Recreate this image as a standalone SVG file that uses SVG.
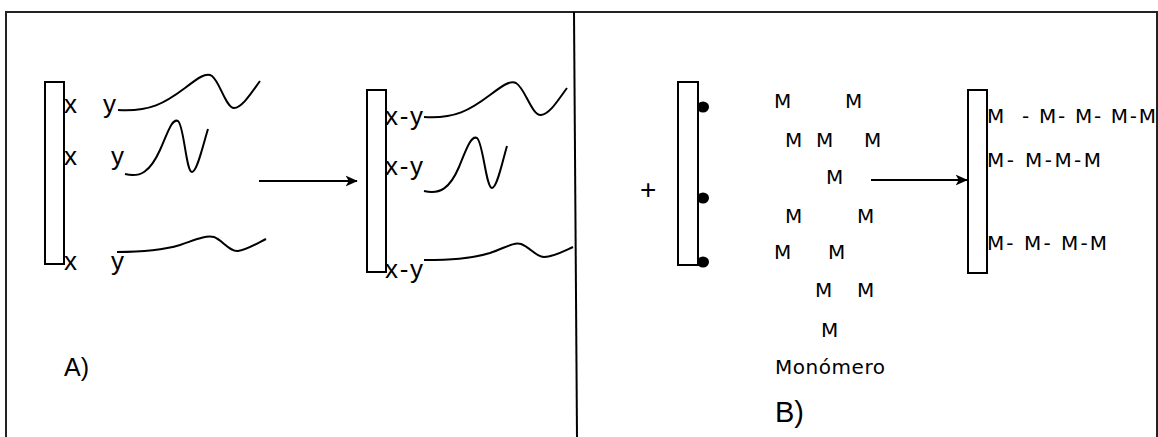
<svg xmlns="http://www.w3.org/2000/svg" width="1158" height="437" viewBox="0 0 1158 437">
<style>
.bar{fill:#fff;stroke:#000;stroke-width:2}
.crv{fill:none;stroke:#000;stroke-width:2}
.t{font-family:"Liberation Sans",Arial,sans-serif;fill:#000}
.ta{font-size:26px}
.tm{font-family:"DejaVu Sans","Liberation Sans",sans-serif;font-size:20px}
.con{stroke:#000;stroke-width:1.8;fill:none}
</style>
<defs>
<marker id="ah" markerWidth="12" markerHeight="12" viewBox="0 0 16 14" refX="15" refY="7" orient="auto" markerUnits="userSpaceOnUse">
<path d="M0,0 L16,7 L0,14 L4,7 Z" fill="#000"/>
</marker>
</defs>
<rect x="0" y="0" width="1158" height="437" fill="#fff"/>
<g id="frame">
<rect x="6" y="12" width="1151" height="440" fill="none" stroke="#222" stroke-width="2"/>
<line x1="574" y1="12" x2="577" y2="437" stroke="#000" stroke-width="2"/>
</g>
<g id="panelA-left">
<rect class="bar" x="45" y="82" width="19" height="182"/>
<text class="t ta" x="64" y="113">x</text>
<text class="t ta" x="103" y="113">y</text>
<text class="t ta" x="64" y="165">x</text>
<text class="t ta" x="111" y="165">y</text>
<text class="t ta" x="64" y="270">x</text>
<text class="t ta" x="111" y="270">y</text>
<path class="crv" d="M118,110 C150,112 165,103 185,88 C198,78 206,72 212,76 C220,82 226,108 234,108 C242,108 252,92 260,81"/>
<path class="crv" d="M125,174 C140,178 150,172 160,150 C168,132 172,118 178,121 C184,125 186,172 192,172 C197,172 203,145 208,129"/>
<path class="crv" d="M117,252 C140,252 160,251 180,245 C195,240 205,235 214,237 C222,240 230,252 238,251 C246,250 256,244 266,239"/>
</g>
<g id="panelA-right">
<rect class="bar" x="367" y="90" width="19" height="182"/>
<text class="t ta" x="385" y="125" textLength="38">x-y</text>
<text class="t ta" x="385" y="175" textLength="38">x-y</text>
<text class="t ta" x="385" y="278" textLength="38">x-y</text>
<path class="crv" d="M424,117 C455,119 470,110 490,95 C502,86 510,80 516,83 C525,88 532,116 541,115 C550,114 558,100 567,88"/>
<path class="crv" d="M424,191 C440,195 450,188 459,167 C466,150 471,135 477,138 C483,142 486,188 492,188 C497,188 502,163 507,146"/>
<path class="crv" d="M424,260 C450,260 470,259 490,253 C505,248 513,242 521,244 C530,247 536,257 544,257 C553,257 562,252 573,247"/>
</g>
<g id="labelA"><text class="t" x="64" y="376" font-size="25">A)</text></g>
<g id="panelB-left">
<text class="t" x="640" y="199" font-size="28">+</text>
<rect class="bar" x="678" y="82" width="20" height="183"/>
<ellipse cx="703" cy="107" rx="6" ry="5.5" fill="#000"/>
<ellipse cx="703" cy="198" rx="6" ry="5.5" fill="#000"/>
<ellipse cx="703" cy="262" rx="6" ry="5.5" fill="#000"/>
</g>
<g id="monomers">
<text class="t tm" x="774" y="108">M</text>
<text class="t tm" x="845" y="108">M</text>
<text class="t tm" x="785" y="147">M</text>
<text class="t tm" x="816" y="147">M</text>
<text class="t tm" x="864" y="147">M</text>
<text class="t tm" x="826" y="184">M</text>
<text class="t tm" x="785" y="223">M</text>
<text class="t tm" x="857" y="223">M</text>
<text class="t tm" x="774" y="259">M</text>
<text class="t tm" x="828" y="259">M</text>
<text class="t tm" x="815" y="297">M</text>
<text class="t tm" x="857" y="297">M</text>
<text class="t tm" x="821" y="337">M</text>
<text class="t tm" x="775" y="374" textLength="110">Monómero</text>
</g>
<g id="labelB"><text class="t" x="775" y="422" font-size="29">B)</text></g>
<g id="panelB-right">
<rect class="bar" x="968" y="90" width="19" height="183"/>
<text class="t tm" x="987" y="123" textLength="169" xml:space="preserve">M  - M- M- M-M</text>
<text class="t tm" x="987" y="167" textLength="114">M- M-M-M</text>
<text class="t tm" x="987" y="250" textLength="120">M- M- M-M</text>
</g>
<g id="connectors">
<line class="con" x1="259" y1="181" x2="357" y2="181" marker-end="url(#ah)"/>
<line class="con" x1="871" y1="180" x2="967" y2="180" marker-end="url(#ah)"/>
</g>
</svg>
